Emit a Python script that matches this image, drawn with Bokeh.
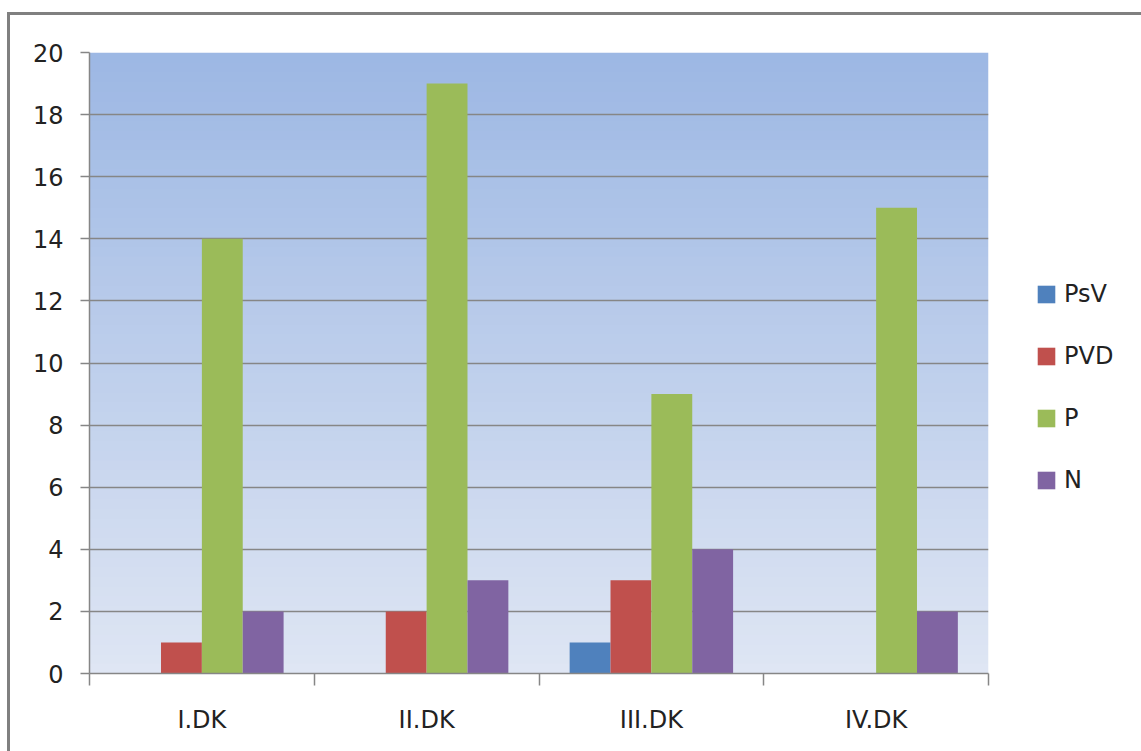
import numpy as np
from bokeh.plotting import figure
from bokeh.models import ColumnDataSource, FixedTicker, Legend, LegendItem
from bokeh.embed import file_html
from bokeh.resources import INLINE

# Data
categories = ["I.DK", "II.DK", "III.DK", "IV.DK"]
series_names = ["PsV", "PVD", "P", "N"]
psv = [0, 0, 1, 0]
pvd = [1, 2, 3, 0]
p_vals = [14, 19, 9, 15]
n_vals = [2, 3, 4, 2]
y_ticks = [0, 2, 4, 6, 8, 10, 12, 14, 16, 18, 20]

colors = ["#4F81BD", "#C0504D", "#9BBB59", "#8064A2"]
FONT = "DejaVu Sans"
TEXT = "#222222"
AXIS = "#868686"

n_cat = len(categories)
y_max = y_ticks[-1]

p = figure(frame_width=899, frame_height=621,
           min_border_left=79, min_border_right=153,
           min_border_top=37, min_border_bottom=78,
           x_range=(0, n_cat), y_range=(0, y_max),
           output_backend="svg", toolbar_location=None,
           background_fill_color="#FFFFFF", border_fill_color="#FFFFFF")
p.outline_line_color = None
p.styles = {"margin-left": "7px", "margin-top": "12px",
            "border-left": "3px solid #808080",
            "border-top": "3px solid #808080"}

# Vertical gradient fill of the plot area (drawn beneath the grid)
top_rgb = np.array([157, 184, 228])
bot_rgb = np.array([223, 230, 244])
rows = 64
t = np.linspace(0, 1, rows)[:, None]
rgb = (bot_rgb + (top_rgb - bot_rgb) * t).astype(np.uint32)
img = (255 << 24) | (rgb[:, 2] << 16) | (rgb[:, 1] << 8) | rgb[:, 0]
img = np.repeat(img[:, None], 2, axis=1).astype(np.uint32)
p.image_rgba(image=[img], x=0, y=0, dw=n_cat, dh=y_max, level="image")

# Clustered bars
bar_w = 1 / 5.5
values = [psv, pvd, p_vals, n_vals]
items = []
for k, (name, vals, col) in enumerate(zip(series_names, values, colors)):
    offset = (k - 1.5) * bar_w
    src = ColumnDataSource(dict(x=[i + 0.5 + offset for i in range(n_cat)],
                                top=vals))
    r = p.vbar(x="x", top="top", width=bar_w, bottom=0, source=src,
               fill_color=col, line_color=None)
    items.append(LegendItem(label=name, renderers=[r]))

legend = Legend(items=items, location=(47, 179),
                glyph_width=22, glyph_height=22, label_standoff=7,
                label_height=28, spacing=34, padding=0, margin=0,
                border_line_color=None, background_fill_alpha=0,
                label_text_font=FONT, label_text_font_size="24px",
                label_text_color=TEXT)
p.add_layout(legend, "right")

# Y axis
p.yaxis.ticker = FixedTicker(ticks=y_ticks)
p.yaxis.axis_line_color = AXIS
p.yaxis.axis_line_width = 1.5
p.yaxis.major_tick_line_color = AXIS
p.yaxis.major_tick_line_width = 1.5
p.yaxis.major_tick_out = 9
p.yaxis.major_tick_in = 0
p.yaxis.minor_tick_line_color = None
p.yaxis.major_label_standoff = 17
p.yaxis.major_label_text_font = FONT
p.yaxis.major_label_text_font_size = "24px"
p.yaxis.major_label_text_color = TEXT

# X axis: labels at category centres, ticks at category boundaries
p.xaxis.ticker = FixedTicker(ticks=[i + 0.5 for i in range(n_cat)],
                             minor_ticks=list(range(n_cat + 1)))
p.xaxis.major_label_overrides = {i + 0.5: c for i, c in enumerate(categories)}
p.xaxis.axis_line_color = AXIS
p.xaxis.axis_line_width = 1.5
p.xaxis.major_tick_line_color = None
p.xaxis.major_tick_out = 0
p.xaxis.major_tick_in = 0
p.xaxis.minor_tick_line_color = AXIS
p.xaxis.minor_tick_line_width = 1.5
p.xaxis.minor_tick_out = 12
p.xaxis.minor_tick_in = 0
p.xaxis.major_label_standoff = 20
p.xaxis.major_label_text_font = FONT
p.xaxis.major_label_text_font_size = "24px"
p.xaxis.major_label_text_color = TEXT

p.xgrid.grid_line_color = None
p.ygrid.grid_line_color = AXIS
p.ygrid.grid_line_width = 1.5

open("out.html", "w").write(file_html(p, INLINE))
